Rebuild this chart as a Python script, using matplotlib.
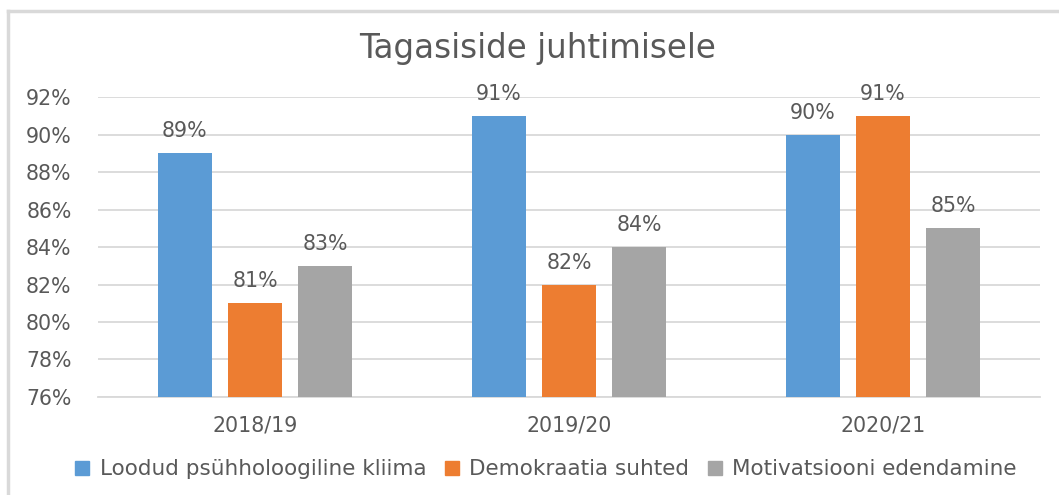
import matplotlib.pyplot as plt
import numpy as np
from matplotlib.lines import Line2D
from matplotlib.ticker import FuncFormatter

years = ['2018/19', '2019/20', '2020/21']
series_names = ['Loodud psühholoogiline kliima', 'Demokraatia suhted', 'Motivatsiooni edendamine']
kliima = [0.89, 0.91, 0.90]
demokraatia = [0.81, 0.82, 0.91]
motivatsioon = [0.83, 0.84, 0.85]
colors = ['#5B9BD5', '#ED7D31', '#A5A5A5']

plt.rcParams['font.family'] = ['DejaVu Sans']
txt = '#595959'
grid = '#D9D9D9'
fs = 14.8

fig = plt.figure(figsize=(10.59, 4.95), dpi=100)
ax = fig.add_axes([0.0925, 0.198, 0.8895, 0.606])

x = np.arange(len(years))
w = 0.172
step = 0.223
for i, vals in enumerate([kliima, demokraatia, motivatsioon]):
    pos = x + (i - 1) * step
    ax.bar(pos, vals, width=w, color=colors[i], zorder=3, label=series_names[i])
    for p, v in zip(pos, vals):
        ax.annotate('%d%%' % round(v * 100), (p, v), xytext=(0, 11.5), textcoords='offset points',
                    ha='center', va='baseline', fontsize=fs, color=txt)

ax.set_xlim(-0.5, 2.5)
ax.set_ylim(0.76, 0.92)
ax.set_yticks(np.arange(0.76, 0.921, 0.02))
ax.yaxis.set_major_formatter(FuncFormatter(lambda v, _: '%d%%' % round(v * 100)))
ax.set_xticks(x)
ax.set_xticklabels(years)
ax.tick_params(axis='both', length=0, labelsize=fs, colors=txt)
ax.tick_params(axis='x', pad=13)
ax.tick_params(axis='y', pad=19)
ax.grid(axis='y', color=grid, linewidth=1.3, zorder=0)
for s in ['top', 'right', 'left']:
    ax.spines[s].set_visible(False)
ax.spines['bottom'].set_color(grid)
ax.spines['bottom'].set_linewidth(1.3)

fig.text(0.508, 0.903, 'Tagasiside juhtimisele', ha='center', va='center', fontsize=23.5, color=txt)

handles = [Line2D([], [], marker='s', linestyle='', markersize=10, color=c) for c in colors]
fig.legend(handles, series_names, loc='center', bbox_to_anchor=(0.515, 0.052), ncol=3, frameon=False,
           fontsize=15.5, labelcolor=txt, handlelength=0.8, handletextpad=0.4, columnspacing=0.8)

# chart area border (left and top edges visible)
fig.add_artist(Line2D([8 / 1059, 8 / 1059], [0, 1 - 11 / 495], color=grid, linewidth=2.5))
fig.add_artist(Line2D([8 / 1059, 1], [1 - 11 / 495, 1 - 11 / 495], color=grid, linewidth=2.5))

fig.savefig('out.png', dpi=100)
